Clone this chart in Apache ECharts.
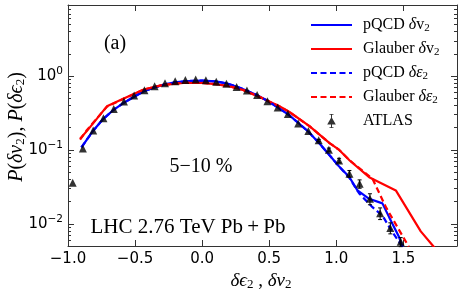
<!DOCTYPE html>
<html><head><meta charset="utf-8">
<script src="https://cdn.jsdelivr.net/npm/echarts@6/dist/echarts.min.js"></script>
<style>html,body{margin:0;padding:0;background:#fff}#c{width:463px;height:298px}</style>
</head><body><div id="c"></div>
<script>
// ---- data ----
const atlasX = [-0.965,-0.889,-0.812,-0.736,-0.659,-0.583,-0.507,-0.430,-0.354,-0.277,-0.201,-0.125,-0.048,0.028,0.105,0.181,0.257,0.334,0.410,0.487,0.563,0.639,0.716,0.792,0.869,0.945,1.021,1.098,1.174,1.251,1.327,1.403,1.480];
const atlasY = [0.036,0.105,0.183,0.269,0.36,0.453,0.547,0.645,0.731,0.80,0.855,0.89,0.90,0.88,0.84,0.79,0.71,0.64,0.555,0.457,0.376,0.307,0.228,0.181,0.135,0.101,0.072,0.0477,0.0348,0.0218,0.0139,0.0088,0.0057];
const atlasErr = [0,0,0,0,0,0,0,0,0,0,0,0,0,0,0,0,0,0,0,0,0,0,0,0,0.004,0.005,0.005,0.005,0.0045,0.0037,0.0025,0.0015,0.0008];

const pqcdV2X = [-0.90,-0.82,-0.74,-0.66,-0.58,-0.50,-0.43,-0.35,-0.27,-0.19,-0.10,0.00,0.10,0.18,0.26,0.33,0.41,0.49,0.56,0.64,0.72,0.79,0.87,0.95,1.02,1.097,1.158,1.245,1.344,1.394,1.468,1.50];
const pqcdV2Y = [0.108,0.175,0.26,0.35,0.44,0.535,0.63,0.71,0.78,0.83,0.86,0.87,0.85,0.80,0.72,0.64,0.55,0.46,0.38,0.305,0.23,0.178,0.125,0.085,0.060,0.043,0.0283,0.0218,0.0189,0.0123,0.0066,0.0045];

const pqcdE2X = [-0.90,-0.82,-0.74,-0.66,-0.58,-0.50,-0.43,-0.35,-0.27,-0.19,-0.10,0.00,0.10,0.18,0.26,0.33,0.41,0.49,0.56,0.64,0.72,0.79,0.87,0.95,1.02,1.097,1.171,1.27,1.344,1.419,1.50,1.53];
const pqcdE2Y = [0.108,0.175,0.26,0.35,0.44,0.535,0.63,0.71,0.78,0.83,0.86,0.87,0.85,0.80,0.72,0.64,0.55,0.46,0.38,0.305,0.23,0.178,0.125,0.085,0.060,0.042,0.0257,0.0168,0.0129,0.0077,0.0047,0.0040];

const glaubV2X = [-0.91,-0.86,-0.71,-0.58,-0.435,-0.29,-0.14,0.00,0.10,0.20,0.30,0.43,0.576,0.651,0.80,0.95,1.022,1.10,1.245,1.444,1.63,1.73];
const glaubV2Y = [0.142,0.18,0.39,0.50,0.66,0.76,0.81,0.81,0.78,0.73,0.655,0.52,0.39,0.327,0.21,0.124,0.100,0.072,0.0428,0.0283,0.0079,0.0048];

const glaubE2X = [-0.91,-0.86,-0.71,-0.58,-0.435,-0.29,-0.14,0.00,0.10,0.20,0.30,0.43,0.576,0.651,0.80,0.95,1.022,1.10,1.27,1.37,1.456,1.54];
const glaubE2Y = [0.138,0.185,0.385,0.50,0.66,0.76,0.81,0.81,0.78,0.73,0.655,0.52,0.39,0.327,0.21,0.124,0.100,0.072,0.0407,0.0168,0.009,0.0049];

const xTicks = [-1.0,-0.5,0.0,0.5,1.0,1.5];
const yTicks = [0.01,0.1,1];
const yTickExp = ['-2','-1','0'];
const yMinor = [0.006,0.007,0.008,0.009,0.02,0.03,0.04,0.05,0.06,0.07,0.08,0.09,0.2,0.3,0.4,0.5,0.6,0.7,0.8,0.9,2,3,4,5,6,7,8,9];

const seriesNames = ['pQCD δv2','Glauber δv2','pQCD δε2','Glauber δε2','ATLAS'];
const legendRich = {
  'pQCD δv2': '{g|}{r|pQCD }{i|δ}{r|v}{s|2}',
  'Glauber δv2': '{g|}{r|Glauber }{i|δ}{r|v}{s|2}',
  'pQCD δε2': '{g|}{r|pQCD }{i|δε}{s|2}',
  'Glauber δε2': '{g|}{r|Glauber }{i|δε}{s|2}',
  'ATLAS': '{g|}{r|ATLAS}'
};

const zip = (xs, ys) => xs.map((x, i) => [x, ys[i]]);
const BLUE = '#0000ff', RED = '#ff0000', AX = '#333';
const SERIF = 'Liberation Serif';

const chart = echarts.init(document.getElementById('c'), null, {renderer: 'canvas'});

function lineSeries(name, xs, ys, color, dashed) {
  return {
    name, type: 'line', data: zip(xs, ys), symbol: 'none', showSymbol: false,
    clip: true, color,
    lineStyle: {color, width: 2.2, type: dashed ? [6, 3.5] : 'solid'},
    z: 3
  };
}

const yAxisBase = (pos, ticks, len, labels, line) => ({
  type: 'log', logBase: 10, min: 0.005, max: 9.2, position: pos,
  axisLine: {show: line, onZero: false, lineStyle: {color: AX, width: 1}},
  axisTick: {show: true, inside: true, length: len, customValues: ticks, lineStyle: {color: AX, width: 1}},
  axisLabel: labels ? {
    show: true, customValues: ticks, margin: 5,
    formatter: v => {
      const k = yTicks.findIndex(t => Math.abs(Math.log10(t) - Math.log10(v)) < 1e-6);
      return '{b|10}{s|' + (k >= 0 ? yTickExp[k].replace('-', '−') : '') + '}';
    },
    rich: {
      b: {fontFamily: 'DejaVu Sans', fontSize: 15, color: '#000'},
      s: {fontFamily: 'DejaVu Sans', fontSize: 10.5, color: '#000', padding: [0, 0, 9, 0]}
    }
  } : {show: false},
  splitLine: {show: false}
});

const xAxisBase = (pos, labels) => ({
  type: 'value', min: -1, max: 1.9, position: pos,
  axisLine: {show: true, onZero: false, lineStyle: {color: AX, width: 1}},
  axisTick: {show: true, inside: true, length: 6, customValues: xTicks, lineStyle: {color: AX, width: 1}},
  axisLabel: labels ? {
    show: true, customValues: xTicks, margin: 6,
    fontFamily: 'DejaVu Sans', fontSize: 15, color: '#000',
    formatter: v => (v < 0 ? '−' : '') + Math.abs(v).toFixed(1)
  } : {show: false},
  splitLine: {show: false}
});

const atlasIcon = 'path://M0,7L0.01,7L0.01,7.01Z M40.99,7L41,7L41,7.01Z M20,0L21,0L21,14L20,14Z M18.5,0L22.5,0L22.5,0.8L18.5,0.8Z M18.5,13.2L22.5,13.2L22.5,14L18.5,14Z M20.5,3L24.8,10.5L16.2,10.5Z';

const option = {
  animation: false,
  backgroundColor: '#fff',
  grid: {left: 68, right: 6, top: 5, bottom: 52, containLabel: false},
  xAxis: [xAxisBase('bottom', true), xAxisBase('top', false)],
  yAxis: [
    yAxisBase('left', yTicks, 6, true, true),
    yAxisBase('left', yMinor, 3, false, false),
    yAxisBase('right', yTicks, 6, false, true),
    yAxisBase('right', yMinor, 3, false, false)
  ],
  legend: {
    orient: 'vertical', left: 310, top: 17, padding: 0, itemWidth: 41, itemHeight: 14, itemGap: 7,
    data: seriesNames.map(n => n === 'ATLAS'
      ? {name: n, icon: atlasIcon}
      : {name: n, itemStyle: {opacity: 0}}),
    formatter: n => legendRich[n],
    textStyle: {
      color: '#000',
      rich: {
        g: {width: 6},
        r: {fontFamily: SERIF, fontSize: 16, color: '#000'},
        i: {fontFamily: SERIF, fontStyle: 'italic', fontSize: 16, color: '#000'},
        s: {fontFamily: SERIF, fontSize: 11, color: '#000', padding: [7, 0, 0, 0]}
      }
    }
  },
  graphic: [
    {type: 'text', x: 115, y: 44, style: {text: '(a)', font: '20px "Liberation Serif"', fill: '#000', align: 'center', verticalAlign: 'middle'}},
    {type: 'text', x: 201, y: 167, style: {text: '5−10 %', font: '20px "Liberation Serif"', fill: '#000', align: 'center', verticalAlign: 'middle'}},
    {type: 'text', x: 188, y: 227, style: {text: 'LHC 2.76 TeV Pb\u2009+\u2009Pb', font: '21px "Liberation Serif"', fill: '#000', align: 'center', verticalAlign: 'middle'}},
    {type: 'text', x: 261, y: 281, style: {
      text: '{i|δϵ}{s|2}{r| , }{i|δv}{s|2}', align: 'center', verticalAlign: 'middle',
      rich: {
        i: {fontFamily: SERIF, fontStyle: 'italic', fontSize: 19, fill: '#000'},
        r: {fontFamily: SERIF, fontSize: 19, fill: '#000'},
        s: {fontFamily: SERIF, fontSize: 13, fill: '#000', padding: [8, 0, 0, 0]}
      }}},
    {type: 'text', x: 17, y: 127, rotation: Math.PI / 2, style: {
      text: '{i|P}{r|(}{i|δv}{s|2}{r|), }{i|P}{r|(}{i|δϵ}{s|2}{r|)}', align: 'center', verticalAlign: 'middle',
      rich: {
        i: {fontFamily: SERIF, fontStyle: 'italic', fontSize: 20, fill: '#000'},
        r: {fontFamily: SERIF, fontSize: 20, fill: '#000'},
        s: {fontFamily: SERIF, fontSize: 13, fill: '#000', padding: [8, 0, 0, 0]}
      }}}
  ],
  series: [
    lineSeries('pQCD δv2', pqcdV2X, pqcdV2Y, BLUE, false),
    lineSeries('Glauber δv2', glaubV2X, glaubV2Y, RED, false),
    lineSeries('pQCD δε2', pqcdE2X, pqcdE2Y, BLUE, true),
    lineSeries('Glauber δε2', glaubE2X, glaubE2Y, RED, true),
    {
      name: 'ATLAS', type: 'scatter', data: zip(atlasX, atlasY),
      symbol: 'triangle', symbolSize: 8, itemStyle: {color: '#000'}, z: 5
    },
    {
      name: 'ATLAS errors', type: 'custom', z: 4,
      data: atlasX.map((x, i) => [x, atlasY[i], atlasErr[i]]),
      encode: {x: 0, y: 1},
      renderItem: (params, api) => {
        const x = api.value(0), y = api.value(1), e = api.value(2);
        if (!e) return null;
        const t = api.coord([x, y + e]), b = api.coord([x, y - e]);
        const st = {stroke: '#000', lineWidth: 1};
        return {type: 'group', children: [
          {type: 'line', shape: {x1: t[0], y1: t[1], x2: b[0], y2: b[1]}, style: st},
          {type: 'line', shape: {x1: t[0] - 2, y1: t[1], x2: t[0] + 2, y2: t[1]}, style: st},
          {type: 'line', shape: {x1: b[0] - 2, y1: b[1], x2: b[0] + 2, y2: b[1]}, style: st}
        ]};
      }
    }
  ]
};
chart.setOption(option);
</script></body></html>
